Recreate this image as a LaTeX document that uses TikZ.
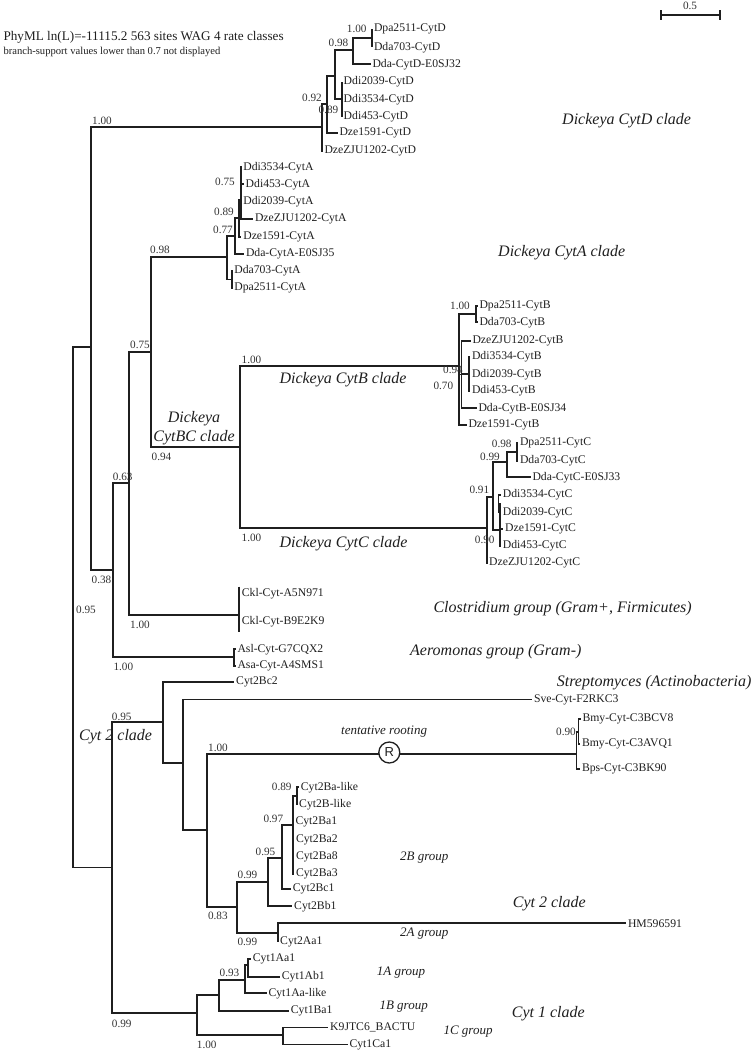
\documentclass[tikz,border=0pt]{standalone}
\usepackage{fontspec}
\setmainfont{Liberation Serif}
\newfontfamily\tnr{Liberation Serif}
\newfontfamily\arl{Liberation Sans}
\begin{document}
\begin{tikzpicture}[x=1pt,y=-1pt,
  br/.style={line width=1.8pt,draw=black!88},
  leaf/.style={anchor=west,inner xsep=1.8pt,inner ysep=0pt,text=black!88,font=\tnr\fontsize{11.7}{13}\selectfont},
  sup/.style={inner sep=0pt,text=black!80,font=\tnr\fontsize{11.2}{13}\selectfont},
  clade/.style={anchor=west,inner sep=0pt,text=black!88,font=\tnr\fontsize{16}{19}\selectfont\itshape},
  grp/.style={anchor=west,inner sep=0pt,text=black!88,font=\tnr\fontsize{13}{15}\selectfont\itshape}]
\useasboundingbox (0,0) rectangle (753,1056);
% internal nodes
\coordinate (R) at (72.7,606.8);
\coordinate (N1) at (91,346.7);
\coordinate (N2) at (112.7,570);
\coordinate (N3) at (129.3,483.3);
\coordinate (N4) at (151,351.7);
\coordinate (BC) at (240,446.7);
\coordinate (Da) at (321.7,126.7);
\coordinate (Db) at (326.7,104);
\coordinate (Dc) at (335,76);
\coordinate (Dd) at (353.3,50);
\coordinate (Df) at (372,38.3);
\coordinate (De) at (341.7,99.3);
\coordinate (A0) at (226.7,257.3);
\coordinate (A1) at (235,236);
\coordinate (A2) at (231.7,279.5);
\coordinate (A3) at (239,218.3);
\coordinate (A4) at (240.7,200);
\coordinate (B0) at (459.3,366);
\coordinate (B1) at (461.5,374.5);
\coordinate (B5) at (476,314);
\coordinate (B6) at (469.3,374);
\coordinate (C0) at (486.7,528.3);
\coordinate (C1) at (493.3,496.7);
\coordinate (C2) at (507.3,462.3);
\coordinate (C4) at (516.7,451.7);
\coordinate (C3) at (500,530);
\coordinate (C3a) at (498.5,503.7);
\coordinate (K0) at (239.3,615);
\coordinate (Kt) at (239.3,586.7);
\coordinate (Kb) at (239.3,631.7);
\coordinate (AE) at (234,657.3);
\coordinate (Cyt) at (111.7,867.5);
\coordinate (Y1) at (163.3,721.7);
\coordinate (Y2) at (182.7,763.3);
\coordinate (Y3) at (206.7,830);
\coordinate (P0) at (576.5,754.3);
\coordinate (P1) at (578.5,731.8);
\coordinate (Q1) at (296.7,795.8);
\coordinate (Q2) at (293.3,825);
\coordinate (Q3) at (282.3,858.3);
\coordinate (Q4) at (268.3,881.7);
\coordinate (Q5) at (236.7,906.7);
\coordinate (Q6) at (277.7,933.3);
\coordinate (Z1) at (196.7,1013.3);
\coordinate (Z2) at (219,995);
\coordinate (Z3) at (245,980);
\coordinate (Z4) at (248.3,965);
\coordinate (Z5) at (282.7,1035);
% leaves
\foreach \n/\x/\y/\t in {
 d1/372/29.3/Dpa2511-CytD, d2/372/47.3/Dda703-CytD, d3/370.5/64.3/Dda-CytD-E0SJ32,
 d4/341.7/81.7/Ddi2039-CytD, d5/341.7/99.3/Ddi3534-CytD, d6/341.7/116.7/Ddi453-CytD,
 d7/337.5/133.3/Dze1591-CytD, d8/322.5/151/DzeZJU1202-CytD,
 a1/241.3/167.3/Ddi3534-CytA, a2/243.7/184.3/Ddi453-CytA, a3/241.3/201.7/Ddi2039-CytA,
 a4/253/219.3/DzeZJU1202-CytA, a5/241.3/236.7/Dze1591-CytA, a6/244/253.7/Dda-CytA-E0SJ35,
 a7/232.3/271/Dda703-CytA, a8/232.3/287.7/Dpa2511-CytA,
 b1/477.5/305.7/Dpa2511-CytB, b2/477.5/322.3/Dda703-CytB, b3/470.5/340.7/DzeZJU1202-CytB,
 b4/470/356.7/Ddi3534-CytB, b5/470/374.3/Ddi2039-CytB, b6/470/391/Ddi453-CytB,
 b7/476.5/408.3/Dda-CytB-E0SJ34, b8/466.5/425/Dze1591-CytB,
 c1/518/443.3/Dpa2511-CytC, c2/518/460.7/Dda703-CytC, c3/530.5/477.3/Dda-CytC-E0SJ33,
 c4/500.9/495/Ddi3534-CytC, c5/500.9/512.3/Ddi2039-CytC, c6/503.2/529.3/Dze1591-CytC,
 c7/500.9/546/Ddi453-CytC, c8/487.2/562.7/DzeZJU1202-CytC,
 k1/239.9/593.3/Ckl-Cyt-A5N971, k2/239.9/621.7/Ckl-Cyt-B9E2K9,
 e1/235.5/649.3/Asl-Cyt-G7CQX2, e2/235.5/666/Asa-Cyt-A4SMS1,
 y1/234.2/682/Cyt2Bc2, y2/532/699.5/Sve-Cyt-F2RKC3,
 p1/580.5/719.3/Bmy-Cyt-C3BCV8, p2/580/744.3/Bmy-Cyt-C3AVQ1, p3/580/769/Bps-Cyt-C3BK90,
 q1/298.9/787.3/Cyt2Ba-like, q2/297.2/804.3/Cyt2B-like, q3/293.5/822.3/Cyt2Ba1,
 q4/294/840/Cyt2Ba2, q5/294/857.3/Cyt2Ba8, q6/294/874.3/Cyt2Ba3,
 q7/290.9/888.8/Cyt2Bc1, q8/292.2/906.2/Cyt2Bb1, q9/626/923.3/HM596591, q10/278.2/941.5/Cyt2Aa1,
 z1/250.9/959.3/Cyt1Aa1, z2/279.9/976.7/Cyt1Ab1, z3/266.5/993.3/Cyt1Aa-like,
 z4/288.9/1010.7/Cyt1Ba1, z6/347.5/1044.5/Cyt1Ca1}
 \node[leaf] (\n) at (\x,\y) {\t};
\node[leaf] (z5) at (328.2,1027.5) {K9JTC6\_BACTU};
% branches
\foreach \p/\c in {R/N1,R/Cyt,N1/Da,N1/N2,
 Da/Db,Da/d8,Db/Dc,Db/d7,Dc/Dd,Dc/De,Dd/Df,Dd/d3,Df/d1,Df/d2,De/d4,De/d5,De/d6,
 N2/N3,N2/AE,N3/N4,N3/K0,N4/A0,N4/BC,
 A0/A1,A0/A2,A1/A3,A1/a6,A3/A4,A3/a5,A4/a1,A4/a2,A4/a3,A4/a4,A2/a7,A2/a8,
 BC/B0,BC/C0,
 B0/B5,B0/B1,B0/b8,B5/b1,B5/b2,B1/b3,B1/B6,B1/b7,B6/b4,B6/b5,B6/b6,
 C0/C1,C0/c8,C1/C2,C1/C3,C2/C4,C2/c3,C4/c1,C4/c2,C3/C3a,C3/c6,C3/c7,C3a/c4,C3a/c5,
 K0/k1,K0/k2,AE/e1,AE/e2,
 Cyt/Y1,Cyt/Z1,
 Y1/y1,Y1/Y2,Y2/y2,Y2/Y3,Y3/P0,Y3/Q5,P0/P1,P0/p3,P1/p1,P1/p2,
 Q5/Q4,Q5/Q6,Q4/Q3,Q4/q8,Q3/Q2,Q3/q7,Q2/Q1,Q2/q3,Q2/q4,Q2/q5,Q2/q6,Q1/q1,Q1/q2,Q6/q9,Q6/q10,
 Z1/Z2,Z1/Z5,Z2/Z3,Z2/z4,Z3/Z4,Z3/z3,Z4/z1,Z4/z2,Z5/z5,Z5/z6}
 \draw[br] (\p) |- (\c);
\draw[br] (Kt) -- (Kb);
% rooting mark
\node[circle,draw=black!88,fill=white,line width=1.3pt,minimum size=21pt,inner sep=0pt,
  text=black!88,font=\arl\fontsize{13}{13}\selectfont] (root) at (389.3,752.5) {R};
\node[grp] (troot) at (341,731.7) {tentative rooting};
% support values
\foreach \n/\x/\y/\t in {
 s1/102/120.7/1.00, s2/356.7/29/1.00, s3/338.5/42.7/0.98, s4/312/98/0.92, s5/328.5/110/0.89,
 s6/225/182.3/0.75, s7/224/212/0.89, s8/223/230/0.77, s9/160/250/0.98, s10/140/345/0.75,
 s11/161.5/457/0.94, s12/251.5/360/1.00, s13/251.5/538/1.00,
 s14/460/305.7/1.00, s15/453/370/0.94, s16/443.3/385.7/0.70,
 s17/501.7/444.3/0.98, s18/490/456.7/0.99, s19/479.3/490/0.91, s20/484.7/540/0.90,
 s21/122.7/476.7/0.63, s22/101.5/580/0.38, s23/140/625/1.00, s24/123.3/666.7/1.00,
 s25/86/610/0.95, s26/121.7/716.7/0.95, s27/121.7/1024/0.99,
 s28/218/748/1.00, s29/566/732.3/0.90,
 s30/281.7/787.3/0.89, s31/273.3/819.3/0.97, s32/265.5/851.7/0.95, s33/247.5/875/0.99,
 s34/217.8/916/0.83, s35/247.3/942.3/0.99, s36/229.5/973.3/0.93, s37/206.7/1045/1.00}
 \node[sup] (\n) at (\x,\y) {\t};
% clade labels
\node[clade] (lD) at (562,121) {Dickeya CytD clade};
\node[clade] (lA) at (498,253) {Dickeya CytA clade};
\node[clade] (lB) at (279.3,380) {Dickeya CytB clade};
\node[clade] (lC) at (279.3,543.3) {Dickeya CytC clade};
\node[clade,anchor=center,align=center] (lBC) at (194,428) {Dickeya\\CytBC clade};
\node[clade] (lK) at (433.3,608.3) {Clostridium group (Gram+, Firmicutes)};
\node[clade] (lAe) at (410,651.7) {Aeromonas group (Gram-)};
\node[clade] (lS) at (556.7,682.3) {Streptomyces (Actinobacteria)};
\node[clade] (l2a) at (79,737) {Cyt 2 clade};
\node[clade] (l2b) at (512.7,903.3) {Cyt 2 clade};
\node[clade] (l1) at (511.7,1013.3) {Cyt 1 clade};
\node[grp] (g2B) at (400,857.3) {2B group};
\node[grp] (g2A) at (400,933.3) {2A group};
\node[grp] (g1A) at (376.7,972.3) {1A group};
\node[grp] (g1B) at (379.3,1006.7) {1B group};
\node[grp] (g1C) at (443.3,1031.7) {1C group};
% title
\node[anchor=west,inner sep=0pt,text=black!88,font=\tnr\fontsize{13.2}{15}\selectfont] (title) at (3.3,37.7) {PhyML ln(L)=-11115.2 563 sites WAG 4 rate classes};
\node[anchor=west,inner sep=0pt,text=black!88,font=\tnr\fontsize{10.6}{12}\selectfont] (sub) at (3.3,51.7) {branch-support values lower than 0.7 not displayed};
% scale bar
\coordinate (sbl) at (661,15);
\coordinate (sbr) at (720,15);
\draw[line width=1.4pt,black!88] (sbl) -- (sbr);
\draw[line width=1.4pt,black!88] ([yshift=-5pt]sbl) -- ([yshift=5pt]sbl);
\draw[line width=1.4pt,black!88] ([yshift=-5pt]sbr) -- ([yshift=5pt]sbr);
\node[sup] (sblab) at (690,6) {0.5};
\end{tikzpicture}
\end{document}
